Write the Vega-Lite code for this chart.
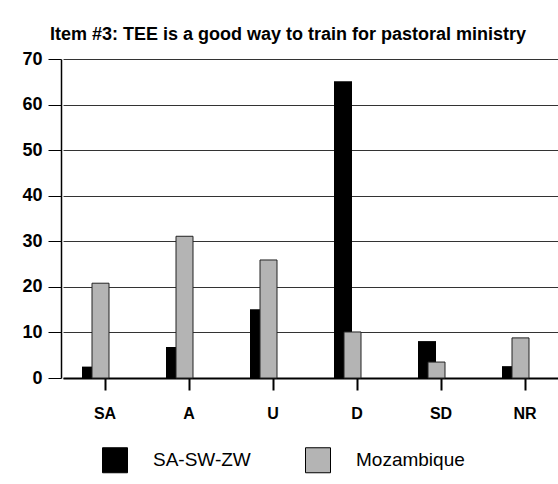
{
  "$schema": "https://vega.github.io/schema/vega-lite/v6.json",
  "width": 497,
  "height": 319,
  "autosize": {"type": "none"},
  "padding": {"left": 61, "top": 59, "right": 0, "bottom": 106},
  "background": "white",
  "title": {
    "text": "Item #3: TEE is a good way to train for pastoral ministry",
    "anchor": "start",
    "frame": "group",
    "dx": -11,
    "offset": 6,
    "font": "Liberation Sans",
    "fontSize": 18,
    "fontWeight": "bold",
    "color": "black"
  },
  "data": {
    "values": [
      {"response": "SA", "group": "SA-SW-ZW", "percent": 2.5},
      {"response": "SA", "group": "Mozambique", "percent": 20.8},
      {"response": "A", "group": "SA-SW-ZW", "percent": 6.8},
      {"response": "A", "group": "Mozambique", "percent": 31.1},
      {"response": "U", "group": "SA-SW-ZW", "percent": 15.1},
      {"response": "U", "group": "Mozambique", "percent": 25.9},
      {"response": "D", "group": "SA-SW-ZW", "percent": 65.1},
      {"response": "D", "group": "Mozambique", "percent": 10.1},
      {"response": "SD", "group": "SA-SW-ZW", "percent": 8.1},
      {"response": "SD", "group": "Mozambique", "percent": 3.5},
      {"response": "NR", "group": "SA-SW-ZW", "percent": 2.6},
      {"response": "NR", "group": "Mozambique", "percent": 8.8}
    ]
  },
  "encoding": {
    "x": {
      "field": "response",
      "type": "nominal",
      "sort": ["SA", "A", "U", "D", "SD", "NR"],
      "scale": {"range": [2, 506], "paddingInner": 0, "paddingOuter": 0},
      "axis": {
        "title": null,
        "labelAngle": 0,
        "ticks": true,
        "tickBand": "center",
        "tickSize": 12,
        "tickColor": "black",
        "tickWidth": 2,
        "domainColor": "black",
        "domainWidth": 2,
        "labelPadding": 15,
        "labelFont": "Liberation Sans",
        "labelFontSize": 16,
        "labelFontWeight": "bold",
        "labelColor": "black",
        "grid": false
      }
    },
    "y": {
      "field": "percent",
      "type": "quantitative",
      "scale": {"domain": [0, 70]},
      "axis": {
        "title": null,
        "values": [0, 10, 20, 30, 40, 50, 60, 70],
        "tickSize": 13,
        "tickColor": "black",
        "domainColor": "black",
        "domainWidth": 1.5,
        "gridColor": "#333333",
        "gridWidth": 1,
        "gridOpacity": 1,
        "labelPadding": 6,
        "labelFont": "Liberation Sans",
        "labelFontSize": 18,
        "labelFontWeight": "bold",
        "labelColor": "black"
      }
    },
    "color": {
      "field": "group",
      "type": "nominal",
      "scale": {"domain": ["SA-SW-ZW", "Mozambique"], "range": ["#000000", "#b4b4b4"]},
      "legend": {
        "orient": "none",
        "legendX": 41,
        "legendY": 388,
        "direction": "horizontal",
        "title": null,
        "symbolType": "square",
        "symbolSize": 625,
        "symbolStrokeColor": "black",
        "symbolStrokeWidth": 1,
        "labelFont": "Liberation Sans",
        "labelFontSize": 19,
        "labelColor": "black",
        "labelOffset": 25,
        "columnPadding": 52
      }
    }
  },
  "layer": [
    {
      "transform": [{"filter": "datum.group === 'SA-SW-ZW'"}],
      "mark": {"type": "bar", "width": 18, "xOffset": -14}
    },
    {
      "transform": [{"filter": "datum.group === 'Mozambique'"}],
      "mark": {"type": "bar", "width": 17, "xOffset": -4.5, "stroke": "#222222", "strokeWidth": 1}
    }
  ],
  "config": {
    "view": {"stroke": null}
  }
}
